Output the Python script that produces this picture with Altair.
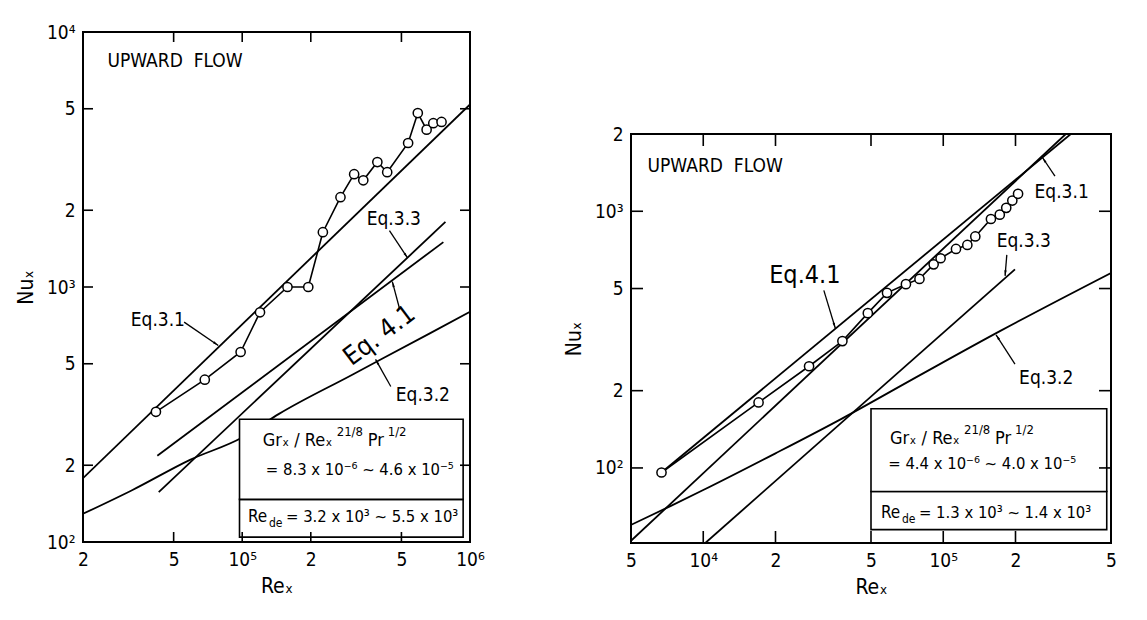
import math
import altair as alt
import pandas as pd

FONT = "DejaVu Sans Condensed, Liberation Sans Narrow, DejaVu Sans, sans-serif"

# ---------------- LEFT PANEL DATA ----------------
L_XDOM = [2e4, 1e6]
L_YDOM = [100, 1e4]
L_DATA_RE = [41800, 68500, 98400, 119700, 158000, 195000, 226000, 270000, 310000,
             340000, 392000, 433000, 535000, 590000, 645000, 690000, 750000]
L_DATA_NU = [324, 433, 556, 796, 1000, 1000, 1640, 2250, 2770,
             2620, 3090, 2820, 3670, 4810, 4140, 4390, 4440]
L_EQ31_RE = [2e4, 1e6]
L_EQ31_NU = [178, 5200]
L_EQ33_RE = [43000, 780000]
L_EQ33_NU = [157, 1800]
L_EQ41_RE = [42400, 764000]
L_EQ41_NU = [218, 1500]
L_EQ32_RE = [2e4, 3.3e4, 5.9e4, 1e5, 1.45e5, 3e5, 6.6e5, 1e6]
L_EQ32_NU = [129, 160, 210, 257, 318, 450, 655, 800]
L_XTICKS = [2e4, 5e4, 1e5, 2e5, 5e5, 1e6]
L_XLABELS = ["2", "5", "10⁵", "2", "5", "10⁶"]
L_YTICKS = [100, 200, 500, 1000, 2000, 5000, 10000]
L_YLABELS = ["10²", "2", "5", "10³", "2", "5", "10⁴"]
L_INNER_X = [5e4, 1e5, 2e5, 5e5]
L_INNER_Y = [200, 500, 1000, 2000, 5000]
L_BOX_X = [97300, 933000]
L_BOX_Y = [104.5, 147, 303]
L_LABEL_TEXT = ["UPWARD\u00a0\u00a0FLOW", "Eq.3.1", "Eq.3.3", "Eq.3.2"]
L_LABEL_X = [25600, 32400, 352000, 472000]
L_LABEL_Y = [7700, 740, 1850, 378]
L_ROT_TEXT = ["Eq. 4.1"]
L_ROT_X = [400000]
L_ROT_Y = [645]
L_ARROW_X1 = [55600, 443000, 491000, 449000]
L_ARROW_Y1 = [728, 1663, 820, 407]
L_ARROW_X2 = [78500, 532000, 456000, 385000]
L_ARROW_Y2 = [590, 1300, 1050, 520]
L_BOX_LINE1 = (123000, 250)
L_BOX_LINE2 = (127000, 191, "= 8.3 x 10⁻⁶ ~ 4.6 x 10⁻⁵")
L_BOX_LINE3 = (106000, 125, "= 3.2 x 10³ ~ 5.5 x 10³")

# ---------------- RIGHT PANEL DATA ----------------
R_XDOM = [5000, 5e5]
R_YDOM = [51, 2000]
R_DATA_RE = [6700, 17000, 27600, 38000, 48500, 58300, 69900, 79600, 91200,
             97500, 113000, 126000, 136000, 158000, 172000, 183000, 194000, 205000]
R_DATA_NU = [96, 180, 249, 312, 401, 481, 520, 545, 621,
             656, 713, 739, 798, 933, 970, 1031, 1101, 1170]
R_EQ31_RE = [5000, 324000]
R_EQ31_NU = [52, 2000]
R_EQ41_RE = [6700, 340000]
R_EQ41_NU = [96, 2000]
R_EQ33_RE = [10200, 199000]
R_EQ33_NU = [51, 594]
R_EQ32_RE = [5000, 7300, 10000, 20000, 37500, 80000, 173000, 500000]
R_EQ32_NU = [60, 71, 82, 114, 155, 230, 342, 575]
R_XTICKS = [5000, 1e4, 2e4, 5e4, 1e5, 2e5, 5e5]
R_XLABELS = ["5", "10⁴", "2", "5", "10⁵", "2", "5"]
R_YTICKS = [100, 200, 500, 1000, 2000]
R_YLABELS = ["10²", "2", "5", "10³", "2"]
R_INNER_X = [1e4, 2e4, 5e4, 1e5, 2e5]
R_INNER_Y = [100, 200, 500, 1000]
R_BOX_X = [50000, 480000]
R_BOX_Y = [57.5, 81, 170]
R_LABEL_TEXT = ["UPWARD\u00a0\u00a0FLOW", "Eq.3.1", "Eq.3.3", "Eq.3.2"]
R_LABEL_X = [5860, 240000, 167000, 207000]
R_LABEL_Y = [1500, 1190, 765, 225]
R_ROT_TEXT = ["Eq.4.1"]
R_ROT_X = [26500]
R_ROT_Y = [565]
R_ARROW_X1 = [31800, 292000, 184000, 199000]
R_ARROW_Y1 = [492, 1370, 676, 254]
R_ARROW_X2 = [35500, 259000, 181000, 166000]
R_ARROW_Y2 = [350, 1620, 560, 330]
R_BOX_LINE1 = (60000, 130)
R_BOX_LINE2 = (59000, 104, "= 4.4 x 10⁻⁶ ~ 4.0 x 10⁻⁵")
R_BOX_LINE3 = (55000, 67, "= 1.3 x 10³ ~ 1.4 x 10³")

ARROW_PATH = "M0,0 L0.32,1.5 L-0.32,1.5 Z"


def label_expr(values, labels):
    expr = "''"
    for v, l in reversed(list(zip(values, labels))):
        expr = f"abs(datum.value-{v})<{v * 1e-6} ? '{l}' : ({expr})"
    return expr


def panel(W, H, xdom, ydom, data_re, data_nu, curves, xticks, xlabels, yticks, ylabels,
          inner_x, inner_y, tick_len, box_x, box_y, lab_text, lab_x, lab_y,
          rot_text, rot_x, rot_y, rot_size, rot_angle,
          ax1, ay1, ax2, ay2, line1, line2, line3):
    xs = alt.Scale(type="log", domain=xdom, nice=False)
    ys = alt.Scale(type="log", domain=ydom, nice=False)
    common = dict(ticks=False, domain=False, grid=False, labelFont=FONT, labelFontSize=19,
                  titleFont=FONT, titleFontSize=21, titleFontWeight="normal",
                  labelColor="black", titleColor="black", labelPadding=8,
                  labelFlush=False, labelOverlap=False)
    XAX = alt.Axis(values=xticks, labelExpr=label_expr(xticks, xlabels), title="Reₓ",
                   titlePadding=6, **common)
    YAX = alt.Axis(values=yticks, labelExpr=label_expr(yticks, ylabels), title="Nuₓ",
                   titlePadding=10, **common)

    def X(f):
        return alt.X(f, scale=xs, axis=XAX)

    def Y(f):
        return alt.Y(f, scale=ys, axis=YAX)

    rows = []
    for name, (rx, ny) in curves.items():
        for a, b in zip(rx, ny):
            rows.append({"re": a, "nu": b, "s": name})
    cdf = pd.DataFrame(rows)
    lines = alt.Chart(cdf).mark_line(color="black", strokeWidth=1.8, clip=True,
                                     interpolate="monotone").encode(
        x=X("re:Q"), y=Y("nu:Q"), detail="s:N")

    ddf = pd.DataFrame({"re": data_re, "nu": data_nu})
    dline = alt.Chart(ddf).mark_line(color="black", strokeWidth=1.6, clip=True).encode(
        x=X("re:Q"), y=Y("nu:Q"))
    dpts = alt.Chart(ddf).mark_point(shape="circle", size=85, filled=True, fill="white",
                                     stroke="black", strokeWidth=1.5, opacity=1).encode(
        x=X("re:Q"), y=Y("nu:Q"))

    bdf = pd.DataFrame({"x": [box_x[0], box_x[0]], "x2": [box_x[1], box_x[1]],
                        "y": [box_y[0], box_y[1]], "y2": [box_y[1], box_y[2]]})
    boxes = alt.Chart(bdf).mark_rect(fill="white", stroke="black", strokeWidth=1.6).encode(
        x=X("x:Q"), x2="x2:Q", y=Y("y:Q"), y2="y2:Q")

    def txt(x, y, text, size, dx=0, dy=0, align="left"):
        return alt.Chart(pd.DataFrame({"x": [x], "y": [y], "t": [text]})).mark_text(
            font=FONT, fontSize=size, align=align, baseline="middle", color="black",
            dx=dx, dy=dy).encode(x=X("x:Q"), y=Y("y:Q"), text="t:N")

    bx, by = line1
    box_texts = [
        txt(bx, by, "Grₓ  /  Reₓ", 18),
        txt(bx, by, "21/8", 13, dx=74, dy=-9),
        txt(bx, by, "Pr", 18, dx=105),
        txt(bx, by, "1/2", 13, dx=125, dy=-9),
        txt(line2[0], line2[1], line2[2], 16.5),
        txt(line3[0], line3[1], "Re", 17),
        txt(line3[0], line3[1], "de", 12, dx=21, dy=6),
        txt(line3[0], line3[1], line3[2], 16.5, dx=38),
    ]

    ldf = pd.DataFrame({"x": lab_x, "y": lab_y, "t": lab_text})
    labels = alt.Chart(ldf).mark_text(font=FONT, fontSize=19, align="left", baseline="middle",
                                      color="black").encode(
        x=X("x:Q"), y=Y("y:Q"), text="t:N")
    rdf = pd.DataFrame({"x": rot_x, "y": rot_y, "t": rot_text})
    rot = alt.Chart(rdf).mark_text(font=FONT, fontSize=rot_size, align="center",
                                   baseline="middle", color="black", angle=rot_angle).encode(
        x=X("x:Q"), y=Y("y:Q"), text="t:N")

    kx = W / (math.log10(xdom[1]) - math.log10(xdom[0]))
    ky = H / (math.log10(ydom[1]) - math.log10(ydom[0]))
    angs = []
    for x1, y1, x2, y2 in zip(ax1, ay1, ax2, ay2):
        ddx = kx * (math.log10(x2) - math.log10(x1))
        ddy = -ky * (math.log10(y2) - math.log10(y1))
        angs.append(math.degrees(math.atan2(ddx, -ddy)) % 360)
    adf = pd.DataFrame({"x1": ax1, "y1": ay1, "x2": ax2, "y2": ay2, "ang": angs})
    ashaft = alt.Chart(adf).mark_rule(color="black", strokeWidth=1.3).encode(
        x=X("x1:Q"), y=Y("y1:Q"), x2="x2:Q", y2="y2:Q")
    ahead = alt.Chart(adf).mark_point(shape=ARROW_PATH, filled=True, color="black",
                                      size=55, opacity=1).encode(
        x=X("x2:Q"), y=Y("y2:Q"), angle=alt.Angle("ang:Q", scale=None))

    tx = pd.DataFrame({"v": inner_x})
    ty = pd.DataFrame({"v": inner_y})
    rs = dict(color="black", strokeWidth=1.6)
    t_top = alt.Chart(tx).mark_rule(**rs).encode(
        x=X("v:Q"), y=alt.value(0), y2=alt.value(tick_len))
    t_bot = alt.Chart(tx).mark_rule(**rs).encode(
        x=X("v:Q"), y=alt.value(H - tick_len), y2=alt.value(H))
    t_left = alt.Chart(ty).mark_rule(**rs).encode(
        y=Y("v:Q"), x=alt.value(0), x2=alt.value(tick_len))
    t_right = alt.Chart(ty).mark_rule(**rs).encode(
        y=Y("v:Q"), x=alt.value(W - tick_len), x2=alt.value(W))

    layers = [lines, dline, dpts, boxes] + box_texts + [labels, rot, ashaft, ahead,
                                                         t_top, t_bot, t_left, t_right]
    return alt.layer(*layers).properties(width=W, height=H)


left = panel(387, 510, L_XDOM, L_YDOM, L_DATA_RE, L_DATA_NU,
             {"eq31": (L_EQ31_RE, L_EQ31_NU), "eq33": (L_EQ33_RE, L_EQ33_NU),
              "eq41": (L_EQ41_RE, L_EQ41_NU), "eq32": (L_EQ32_RE, L_EQ32_NU)},
             L_XTICKS, L_XLABELS, L_YTICKS, L_YLABELS, L_INNER_X, L_INNER_Y, 10,
             L_BOX_X, L_BOX_Y, L_LABEL_TEXT, L_LABEL_X, L_LABEL_Y,
             L_ROT_TEXT, L_ROT_X, L_ROT_Y, 26, 323,
             L_ARROW_X1, L_ARROW_Y1, L_ARROW_X2, L_ARROW_Y2,
             L_BOX_LINE1, L_BOX_LINE2, L_BOX_LINE3)

right = panel(480, 409, R_XDOM, R_YDOM, R_DATA_RE, R_DATA_NU,
              {"eq31": (R_EQ31_RE, R_EQ31_NU), "eq41": (R_EQ41_RE, R_EQ41_NU),
               "eq33": (R_EQ33_RE, R_EQ33_NU), "eq32": (R_EQ32_RE, R_EQ32_NU)},
              R_XTICKS, R_XLABELS, R_YTICKS, R_YLABELS, R_INNER_X, R_INNER_Y, 12,
              R_BOX_X, R_BOX_Y, R_LABEL_TEXT, R_LABEL_X, R_LABEL_Y,
              R_ROT_TEXT, R_ROT_X, R_ROT_Y, 25, 0,
              R_ARROW_X1, R_ARROW_Y1, R_ARROW_X2, R_ARROW_Y2,
              R_BOX_LINE1, R_BOX_LINE2, R_BOX_LINE3)

spacer = alt.Chart(pd.DataFrame({"a": [0]})).mark_point(opacity=0).encode(
    x=alt.value(0), y=alt.value(0)).properties(
    width=10, height=91, view=alt.ViewBackground(stroke="transparent"))

chart = alt.hconcat(left, alt.vconcat(spacer, right, spacing=0), spacing=76).properties(
    padding={"left": 14, "top": 22, "right": 5, "bottom": 5}
).configure(background="white").configure_view(stroke="black", strokeWidth=2)

chart.save("out.html", embed_options={"renderer": "svg", "actions": False})
